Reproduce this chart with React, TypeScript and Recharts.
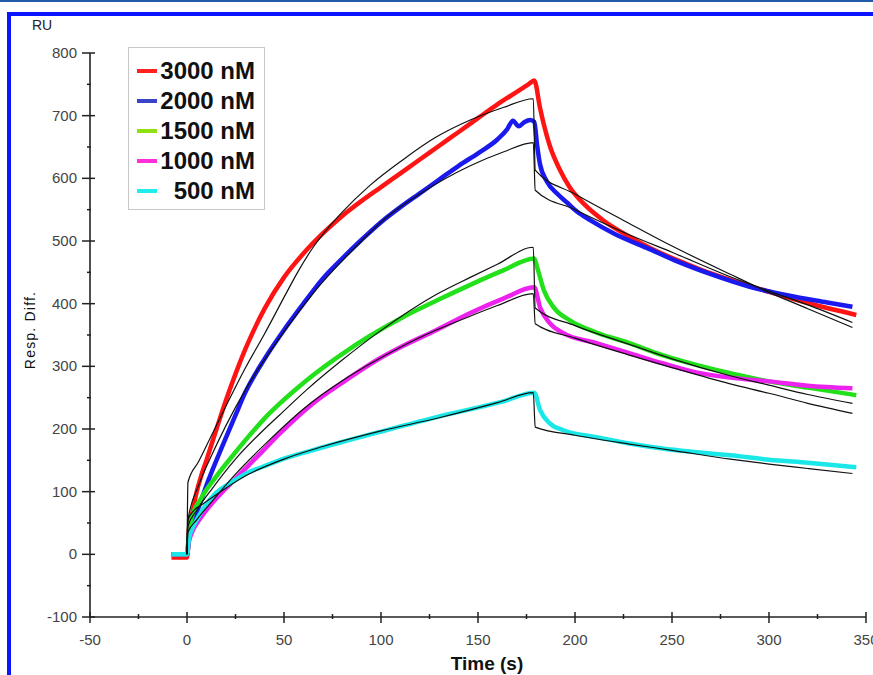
import React from 'react';
import { LineChart, Line, XAxis, YAxis, Legend } from 'recharts';

// axis ticks (minor ticks are the unlabeled ones)
const xTicks = [-50, -25, 0, 25, 50, 75, 100, 125, 150, 175, 200, 225, 250, 275, 300, 325, 350];
const yTicks = [-100, -50, 0, 50, 100, 150, 200, 250, 300, 350, 400, 450, 500, 550, 600, 650, 700, 750, 800];

// measured curves (RU vs time in s)
const redTimes = [-8, -1, 0, 0.5, 1, 3, 5, 7, 10, 15, 20, 25, 30, 40, 50, 60, 70, 80, 90, 100, 110, 120, 130, 140, 150, 160, 170, 176, 179, 182, 184, 187, 192, 197, 205, 215, 228, 240, 253, 265, 280, 300, 320, 345];
const redValues = [-5, -5, -5, 10, 40, 70, 100, 122, 150, 198, 245, 288, 327, 392, 442, 480, 512, 540, 564, 586, 608, 630, 652, 674, 696, 718, 738, 750, 756, 712, 685, 652, 615, 587, 558, 532, 507, 487, 469, 454, 438, 419, 401, 382];

const blueTimes = [-8, -1, 0, 0.5, 1, 3, 6, 11, 18, 25, 30, 40, 50, 60, 70, 80, 90, 100, 110, 120, 130, 140, 150, 160, 165, 168, 171, 174, 177, 179, 180.5, 182, 185.5, 191, 196, 201, 208, 220, 237, 253, 270, 290, 310, 330, 343];
const blueValues = [0, 0, 0, 10, 27, 50, 75, 118, 171, 222, 258, 312, 358, 400, 440, 472, 502, 530, 554, 576, 598, 620, 640, 662, 678, 692, 683, 690, 693, 690, 652, 622, 595, 575, 561, 547, 533, 512, 489, 467, 447, 427, 413, 402, 395];

const greenTimes = [-8, 0, 1, 2, 7, 15, 25, 32, 40, 47.6, 56, 64.6, 82, 94, 111, 128.7, 146, 163, 179, 180.5, 184, 189, 197.5, 211, 228, 245, 263, 280, 300, 320, 345];
const greenValues = [0, 0, 30, 54, 88, 124, 163, 189, 217, 240, 263, 285, 324, 348, 378, 405, 430, 453, 472, 458, 421, 394, 373, 354, 337, 318, 302, 289, 276, 266, 254];

const magentaTimes = [-8, 0, 1, 3, 7, 13, 20, 30.5, 40, 47.6, 64.6, 82, 99, 111, 128.7, 146, 163, 179, 182, 187, 194, 211, 228, 245, 263, 280, 300, 320, 343];
const magentaValues = [0, 0, 20, 38, 58, 82, 105, 138, 168, 192, 240, 278, 312, 332, 358, 385, 408, 426, 394, 369, 353, 337, 321, 305, 290, 282, 276, 269, 265];

const cyanTimes = [-8, 0, 1, 3, 5, 10, 15, 23, 30.5, 41, 47.6, 64.6, 82, 99, 128.7, 163, 179, 182, 187, 194, 211, 228, 245, 263, 280, 300, 320, 345];
const cyanValues = [0, 0, 25, 43, 55, 80, 98, 115, 129, 142, 150, 166, 181, 195, 219, 244, 258, 230, 209, 198, 187, 177, 169, 163, 158, 151, 146, 139];

// fitted curves (black)
const redFitTimes = [0, 0.5, 6, 13, 20, 30, 40, 50, 57, 64.6, 72, 80, 94, 111, 128, 146, 163, 178.5, 179.5, 200, 228, 250, 280, 300, 320, 343];
const redFitValues = [0, 115, 148, 192, 236, 297, 352, 410, 450, 488, 518, 546, 588, 629, 665, 693, 713, 727, 613, 575, 528, 492, 447, 418, 392, 362];

const blueFitTimes = [0, 0.5, 6, 13, 20, 30, 47.6, 64.6, 82, 103, 120, 146, 163, 178.5, 179.5, 200, 228, 250, 280, 300, 320, 343];
const blueFitValues = [0, 55, 110, 160, 205, 262, 345, 415, 475, 538, 575, 620, 642, 657, 581, 550, 510, 482, 443, 420, 398, 370];

const greenFitTimes = [0, 0.5, 5, 13, 25, 40, 47.6, 61.5, 80, 99, 128.7, 146, 160, 178.5, 179.5, 200, 228, 250, 280, 300, 320, 343];
const greenFitValues = [0, 45, 70, 105, 152, 200, 222, 262, 310, 355, 415, 442, 463, 490, 393, 365, 335, 312, 285, 270, 255, 241];

const magentaFitTimes = [0, 0.5, 5, 13, 25, 40, 60, 80, 99, 120, 146, 160, 178.5, 179.5, 200, 228, 250, 280, 300, 320, 343];
const magentaFitValues = [0, 35, 55, 85, 128, 175, 232, 277, 312, 346, 380, 397, 416, 368, 345, 318, 298, 272, 257, 241, 225];

const cyanFitTimes = [0, 0.5, 3, 8, 15, 30, 50, 70, 100, 130, 160, 178.5, 179.5, 200, 228, 250, 280, 300, 320, 343];
const cyanFitValues = [0, 55, 68, 80, 95, 125, 152, 172, 197, 218, 242, 258, 203, 190, 176, 166, 152, 144, 137, 129];

const legendLabels = ['3000 nM', '2000 nM', '1500 nM', '1000 nM', '500 nM'];
const legendColors = ['#ff2020', '#3a44c8', '#8ee010', '#ff30d8', '#20eeee'];

const zip = (times: number[], values: number[]) => times.map((t, i) => ({ t, v: values[i] }));

const series = [
  { name: '3000 nM', color: '#ff1414', data: zip(redTimes, redValues), fit: zip(redFitTimes, redFitValues) },
  { name: '2000 nM', color: '#1a1aee', data: zip(blueTimes, blueValues), fit: zip(blueFitTimes, blueFitValues) },
  { name: '1500 nM', color: '#22e01a', data: zip(greenTimes, greenValues), fit: zip(greenFitTimes, greenFitValues) },
  { name: '1000 nM', color: '#ee22ee', data: zip(magentaTimes, magentaValues), fit: zip(magentaFitTimes, magentaFitValues) },
  { name: '500 nM', color: '#1ae8e8', data: zip(cyanTimes, cyanValues), fit: zip(cyanFitTimes, cyanFitValues) },
];

const font = '"Liberation Sans", Arial, sans-serif';

const XTick = ({ x, y, payload }: any) => {
  const major = payload.value % 50 === 0;
  return (
    <g>
      <line x1={x} x2={x} y1={major ? y - 5 : y - 3} y2={major ? y + 6 : y + 2} stroke="#222" strokeWidth={1.5} />
      {major && (
        <text x={x} y={y + 28} textAnchor="middle" fontSize={15} fill="#444" fontFamily={font}>
          {payload.value}
        </text>
      )}
    </g>
  );
};

const YTick = ({ x, y, payload }: any) => {
  const major = payload.value % 100 === 0;
  return (
    <g>
      <line x1={major ? x - 8 : x - 3} x2={major ? x + 5 : x + 1} y1={y} y2={y} stroke="#222" strokeWidth={1.5} />
      {major && (
        <text x={x - 13} y={y + 5} textAnchor="end" fontSize={15} fill="#444" fontFamily={font}>
          {payload.value}
        </text>
      )}
    </g>
  );
};

const LegendBox = () => (
  <div style={{ border: '1.5px solid #c8c8c8', background: '#fff', width: 137, height: 163, boxSizing: 'border-box', paddingTop: 8 }}>
    {legendLabels.map((label, i) => (
      <div key={label} style={{ display: 'flex', alignItems: 'center', height: 30 }}>
        <span style={{ width: 20, height: 4, background: legendColors[i], marginLeft: 8 }} />
        <span style={{ display: 'inline-block', width: 98, textAlign: 'right', fontFamily: font, fontWeight: 'bold', fontSize: 24, color: '#111', lineHeight: '30px' }}>
          {label}
        </span>
      </div>
    ))}
  </div>
);

export default function App() {
  return (
    <div style={{ position: 'absolute', left: 0, top: 0, width: 873, height: 675, overflow: 'hidden', background: '#fff' }}>
      <div style={{ position: 'absolute', left: 0, top: 0, width: 873, height: 2, background: '#1f5aa6' }} />
      <div style={{ position: 'absolute', left: 7, top: 12, right: 0, bottom: 0, borderTop: '4px solid #0a14ff', borderLeft: '4px solid #0a14ff' }} />
      <div style={{ position: 'absolute', left: 32, top: 18, fontFamily: font, fontSize: 14, lineHeight: '14px', color: '#222' }}>RU</div>
      <div style={{ position: 'absolute', left: 30, top: 330, fontFamily: font, fontSize: 14, letterSpacing: 1.2, lineHeight: '14px', color: '#111', whiteSpace: 'nowrap', transform: 'translate(-50%, -50%) rotate(-90deg)' }}>
        Resp. Diff.
      </div>
      <div style={{ position: 'absolute', left: 487, top: 654, fontFamily: font, fontSize: 19, fontWeight: 'bold', lineHeight: '19px', color: '#111', whiteSpace: 'nowrap', transform: 'translateX(-50%)' }}>
        Time (s)
      </div>
      <LineChart width={873} height={675} margin={{ top: 53, right: 7, bottom: 0, left: 0 }} style={{ position: 'absolute', left: 0, top: 0 }}>
        <XAxis
          type="number"
          dataKey="t"
          domain={[-50, 350]}
          ticks={xTicks}
          interval={0}
          allowDataOverflow
          height={58}
          tickSize={0}
          tickMargin={0}
          tickLine={false}
          tick={<XTick />}
          axisLine={{ stroke: '#222', strokeWidth: 1.6 }}
        />
        <YAxis
          type="number"
          dataKey="v"
          domain={[-100, 800]}
          ticks={yTicks}
          interval={0}
          allowDataOverflow
          width={90}
          tickSize={0}
          tickMargin={0}
          tickLine={false}
          tick={<YTick />}
          axisLine={{ stroke: '#222', strokeWidth: 1.6 }}
        />
        {series.map(s => (
          <Line
            key={s.name}
            name={s.name}
            data={s.data}
            dataKey="v"
            type="monotone"
            stroke={s.color}
            strokeWidth={4.5}
            dot={false}
            activeDot={false}
            isAnimationActive={false}
          />
        ))}
        {series.map(s => (
          <Line
            key={s.name + ' fit'}
            data={s.fit}
            dataKey="v"
            type="monotone"
            stroke="#111"
            strokeWidth={1.2}
            dot={false}
            activeDot={false}
            legendType="none"
            isAnimationActive={false}
          />
        ))}
        <Legend
          layout="vertical"
          verticalAlign="middle"
          align="center"
          wrapperStyle={{ top: 47, left: 128, width: 137, height: 163 }}
          content={() => <LegendBox />}
        />
      </LineChart>
    </div>
  );
}
